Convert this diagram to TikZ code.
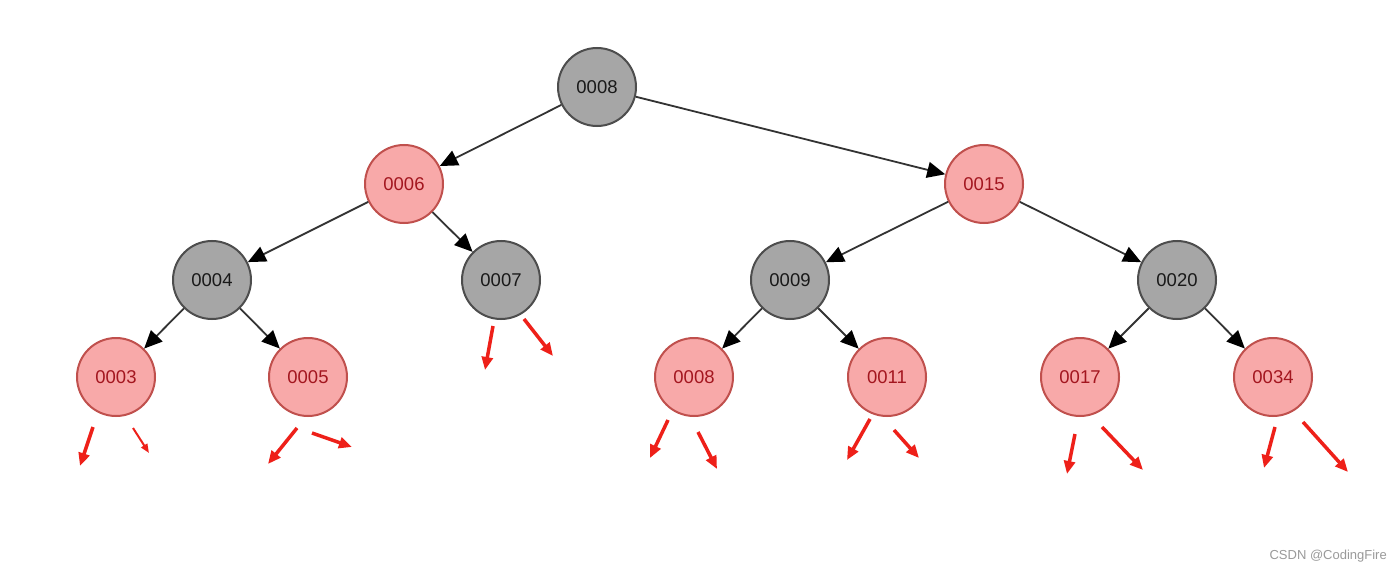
\documentclass[tikz,border=0pt]{standalone}
\usepackage{fontspec}
\setmainfont{Liberation Sans}
\usetikzlibrary{arrows.meta}
\definecolor{grayfill}{HTML}{A6A6A6}
\definecolor{grayline}{HTML}{4D4D4D}
\definecolor{pinkfill}{HTML}{F8A9A9}
\definecolor{pinkline}{HTML}{C0504D}
\definecolor{pinktext}{HTML}{A3161F}
\definecolor{redarrow}{HTML}{EE2019}
\definecolor{edgecol}{HTML}{333333}
\definecolor{wmark}{HTML}{9A9A9A}
\begin{document}
\begin{tikzpicture}[x=1pt,y=-1pt,
  blacknode/.style={circle,minimum size=78pt,inner sep=0pt,fill=grayfill,draw=grayline,line width=2pt,
    font=\fontsize{18.5}{18.5}\selectfont,text=black!90},
  rednode/.style={circle,minimum size=78pt,inner sep=0pt,fill=pinkfill,draw=pinkline,line width=2pt,
    font=\fontsize{18.5}{18.5}\selectfont,text=pinktext},
  edge/.style={draw=edgecol,line width=1.8pt,-{Triangle[length=18pt,width=16pt,color=black]}},
  nilarrow/.style={draw=redarrow,line width=3.5pt,-{Triangle[length=13pt,width=11pt]}},
  wm/.style={text=wmark,font=\fontsize{13}{13}\selectfont,anchor=east,inner sep=0pt}]
\useasboundingbox (0,0) rectangle (1400,575);
\fill[white] (0,0) rectangle (1400,575);

\node[blacknode] (n8)  at (597,87)  {0008};
\node[rednode]   (n6)  at (404,184) {0006};
\node[rednode]   (n15) at (984,184) {0015};
\node[blacknode] (n4)  at (212,280) {0004};
\node[blacknode] (n7)  at (501,280) {0007};
\node[blacknode] (n9)  at (790,280) {0009};
\node[blacknode] (n20) at (1177,280) {0020};
\node[rednode]   (n3)  at (116,377) {0003};
\node[rednode]   (n5)  at (308,377) {0005};
\node[rednode]   (n8b) at (694,377) {0008};
\node[rednode]   (n11) at (887,377) {0011};
\node[rednode]   (n17) at (1080,377) {0017};
\node[rednode]   (n34) at (1273,377) {0034};

\draw[edge] (n8) -- (n6);
\draw[edge] (n8) -- (n15);
\draw[edge] (n6) -- (n4);
\draw[edge] (n6) -- (n7);
\draw[edge] (n15) -- (n9);
\draw[edge] (n15) -- (n20);
\draw[edge] (n4) -- (n3);
\draw[edge] (n4) -- (n5);
\draw[edge] (n9) -- (n8b);
\draw[edge] (n9) -- (n11);
\draw[edge] (n20) -- (n17);
\draw[edge] (n20) -- (n34);

% red nil arrows
\coordinate (a1s) at (93,427);   \coordinate (a1e) at (80,466);
\coordinate (a2s) at (133,428);  \coordinate (a2e) at (149,453);
\coordinate (a3s) at (297,428);  \coordinate (a3e) at (268,464);
\coordinate (a4s) at (312,433);  \coordinate (a4e) at (352,447);
\coordinate (a5s) at (493,326);  \coordinate (a5e) at (485,370);
\coordinate (a6s) at (524,319);  \coordinate (a6e) at (553,356);
\coordinate (a7s) at (668,420);  \coordinate (a7e) at (650,458);
\coordinate (a8s) at (698,432);  \coordinate (a8e) at (717,469);
\coordinate (a9s) at (870,419);  \coordinate (a9e) at (847,460);
\coordinate (a10s) at (894,430); \coordinate (a10e) at (919,458);
\coordinate (a11s) at (1075,434);\coordinate (a11e) at (1067,474);
\coordinate (a12s) at (1102,427);\coordinate (a12e) at (1143,470);
\coordinate (a13s) at (1275,427);\coordinate (a13e) at (1264,468);
\coordinate (a14s) at (1303,422);\coordinate (a14e) at (1348,472);
\foreach \i in {1,3,4,5,...,14} {\draw[nilarrow] (a\i s) -- (a\i e);}
\draw[nilarrow,line width=2pt,-{Triangle[length=9pt,width=7pt]}] (a2s) -- (a2e);

\node[wm] (wmk) at (1387,556) {CSDN @CodingFire};
\end{tikzpicture}
\end{document}
